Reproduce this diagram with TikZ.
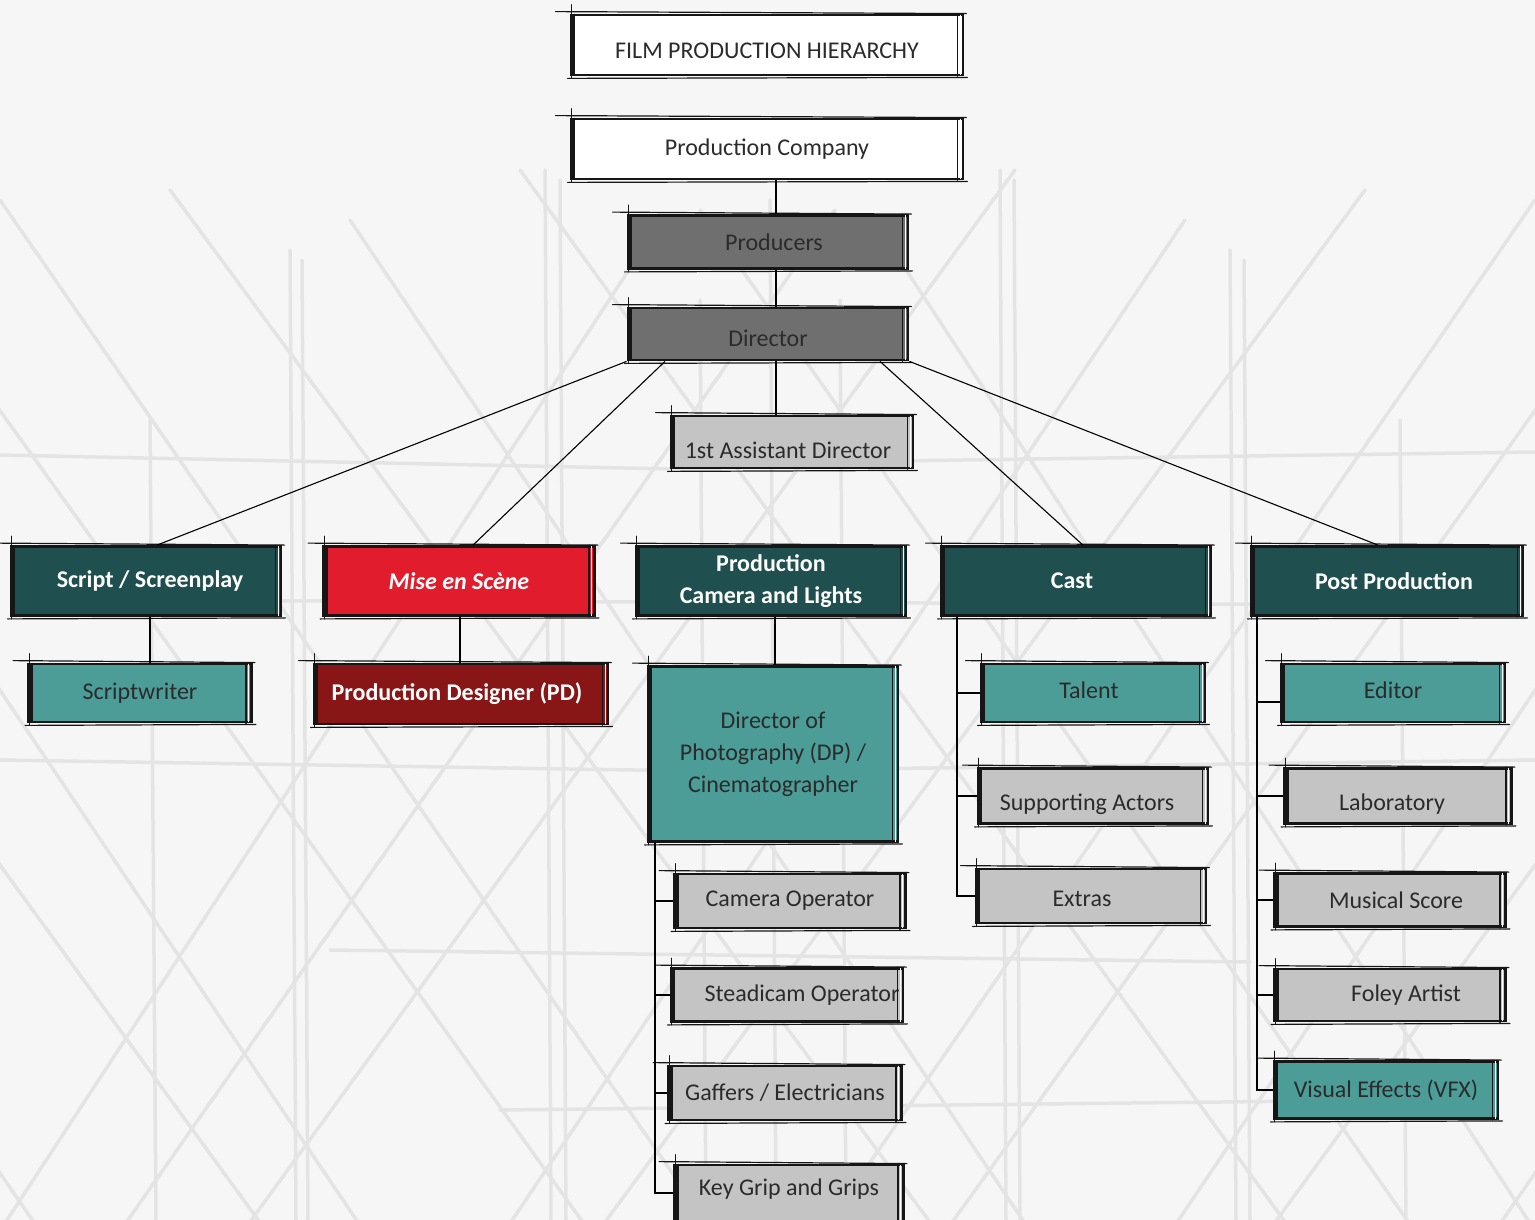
\documentclass[tikz,border=0pt]{standalone}
\usepackage{fontspec}
\setmainfont{Carlito}
\usetikzlibrary{calc}
\definecolor{bg}{HTML}{F6F6F6}
\definecolor{scaf}{HTML}{E4E4E4}
\definecolor{tealdark}{HTML}{1F4F4E}
\definecolor{tealmid}{HTML}{4C9C98}
\definecolor{redbright}{HTML}{E11D2D}
\definecolor{reddark}{HTML}{891616}
\definecolor{graydark}{HTML}{6F6F6F}
\definecolor{graylight}{HTML}{C4C4C4}
\definecolor{ink}{HTML}{2B2B2B}
\definecolor{edge}{HTML}{161616}
\newcommand\shiftx[2]{\hspace*{#1pt}#2\hspace*{-#1pt}}
\newcommand\shiftxl[2]{\hspace*{-#1pt}#2\hspace*{#1pt}}
\newcommand\down[2]{\raisebox{-#1pt}[\height][\depth]{#2}}
\newcommand\up[2]{\raisebox{#1pt}[\height][\depth]{#2}}
\tikzset{
  box/.style={draw=edge, line width=2.8pt, inner sep=0pt, align=center,
    font=\fontsize{24}{32}\selectfont, text=ink},
  whitebox/.style={box, fill=white},
  darkgray/.style={box, fill=graydark, text=ink},
  lightgray/.style={box, fill=graylight},
  headbox/.style={box, fill=tealdark, text=white, font=\fontsize{24}{32}\selectfont\bfseries},
  redhead/.style={box, fill=redbright, text=white, font=\fontsize{24}{32}\selectfont\bfseries\itshape},
  tealbox/.style={box, fill=tealmid},
  redbox/.style={box, fill=reddark, text=white, font=\fontsize{24}{32}\selectfont\bfseries},
  link/.style={draw=black, line width=1.1pt},
  sk/.style={draw=edge, line width=1.2pt, line cap=round},
  scafline/.style={draw=scaf, line width=3.5pt, line cap=round},
}
\begin{document}
\begin{tikzpicture}[x=1pt,y=-1pt]
\useasboundingbox (0,0) rectangle (1535,1220);
\fill[bg] (0,0) rectangle (1535,1220);
% background scaffolding
\begin{scope}
\clip (0,0) rectangle (1535,1220);
\foreach \x/\y/\dx in {-700/160/760,-520/150/800,-350/170/740,-180/160/790,0/200/760,170/190/810,350/220/740,520/170/800,700/210/770,880/230/720}
  \draw[scafline] (\x,\y) -- ++(\dx,1100);
\foreach \x/\y/\dx in {2235/160/-760,2055/150/-800,1885/170/-740,1715/160/-790,1535/200/-760,1365/190/-810,1185/220/-740,1015/170/-800,835/210/-770,655/230/-720}
  \draw[scafline] (\x,\y) -- ++(\dx,1100);
\foreach \x/\y in {150/420,290/250,302/260,545/170,560/180,700/300,770/200,840/300,1000/170,1014/180,1230/250,1244/260,1400/420}
  \draw[scafline] (\x,\y) -- (\x+6,1220);
\draw[scafline] (0,455) -- (720,470);
\draw[scafline] (820,462) -- (1535,452);
\draw[scafline] (60,600) -- (1500,605);
\draw[scafline] (0,760) -- (760,772);
\draw[scafline] (780,770) -- (1535,760);
\draw[scafline] (330,950) -- (1250,962);
\draw[scafline] (500,1110) -- (1400,1100);
\end{scope}
% nodes
\node[whitebox, minimum width=392, minimum height=60] (title) at (767,45) {\down{6}{FILM PRODUCTION HIERARCHY}};
\node[whitebox, minimum width=392, minimum height=60] (pc) at (767,149) {Production Company};
\node[darkgray, minimum width=280, minimum height=53] (prod) at (768,242) {\shiftx{6}{Producers}};
\node[darkgray, minimum width=280, minimum height=52] (dir) at (768,334) {\down{4}{Director}};
\node[lightgray, minimum width=242, minimum height=52] (ad) at (792,442) {\shiftxl{4}{\down{8}{1st Assistant Director}}};
\node[headbox, minimum width=270, minimum height=69] (script) at (146,581) {\shiftx{4}{Script / Screenplay}};
\node[redhead, minimum width=271, minimum height=69] (mise) at (459,581) {Mise en Scène};
\node[headbox, minimum width=270, minimum height=69] (camlights) at (771,581) {Production\\Camera and Lights};
\node[headbox, minimum width=270, minimum height=69] (cast) at (1076,581) {\shiftxl{4}{Cast}};
\node[headbox, minimum width=272, minimum height=69] (post) at (1387,581) {\shiftx{7}{Post Production}};
\node[tealbox, minimum width=223, minimum height=58] (scriptwriter) at (140,693) {Scriptwriter};
\node[redbox, minimum width=294, minimum height=60] (pd) at (461,694) {\shiftxl{4}{Production Designer (PD)}};
\node[tealbox, minimum width=250, minimum height=175] (dp) at (773,754) {Director of\\Photography (DP) /\\Cinematographer};
\node[tealbox, minimum width=224, minimum height=58] (talent) at (1093,693) {\shiftxl{4}{\up{3}{Talent}}};
\node[lightgray, minimum width=230, minimum height=55] (supp) at (1093,796) {\shiftxl{6}{\down{8}{Supporting Actors}}};
\node[lightgray, minimum width=230, minimum height=54] (extras) at (1091,896) {\shiftxl{9}{\down{3}{Extras}}};
\node[tealbox, minimum width=224, minimum height=58] (editor) at (1393,693) {\up{3}{Editor}};
\node[lightgray, minimum width=227, minimum height=55] (lab) at (1398,796) {\shiftxl{6}{\down{8}{Laboratory}}};
\node[lightgray, minimum width=231, minimum height=53] (music) at (1390,900) {\shiftx{6}{Musical Score}};
\node[lightgray, minimum width=231, minimum height=52] (foley) at (1390,995) {\shiftx{16}{Foley Artist}};
\node[tealbox, minimum width=224, minimum height=57] (vfx) at (1386,1090) {Visual Effects (VFX)};
\node[lightgray, minimum width=231, minimum height=54] (camop) at (790,901) {Camera Operator};
\node[lightgray, minimum width=232, minimum height=53] (steadi) at (787,995) {\shiftx{15}{Steadicam Operator}};
\node[lightgray, minimum width=233, minimum height=54] (gaffers) at (785,1093) {Gaffers / Electricians};
\node[lightgray, minimum width=229, minimum height=56] (keygrip) at (789,1193) {\up{4}{Key Grip and Grips}};
% sketchy strokes
\foreach \n in {title,pc,prod,dir,ad,script,mise,camlights,cast,post,scriptwriter,pd,dp,talent,supp,extras,editor,lab,music,foley,vfx,camop,steadi,gaffers,keygrip}{
  \draw[sk] ([shift={(-14,-2)}]\n.north west) -- ([shift={(2,0)}]\n.north east);
  \draw[sk] ([shift={(2,-9)}]\n.north west) -- ([shift={(2,2)}]\n.south west);
  \draw[draw=edge, line width=3.5pt] ([shift={(4,0)}]\n.north west) -- ([shift={(4,0)}]\n.south west);
  \draw[white, line width=0.9pt] ([shift={(-4,1)}]\n.north east) -- ([shift={(-4,-1)}]\n.south east);
  \draw[sk] ([shift={(-7,0)}]\n.north east) -- ([shift={(-7,0)}]\n.south east);
  \draw[sk] ([shift={(-2,2)}]\n.south west) -- ([shift={(3,1)}]\n.south east);
}
% connectors
\coordinate (spine) at (776,0);
\coordinate (dpbus) at (655,0);
\coordinate (castbus) at (957,0);
\coordinate (postbus) at (1257,0);
\draw[link] (pc.south -| spine) -- (prod.north -| spine);
\draw[link] (prod.south -| spine) -- (dir.north -| spine);
\draw[link] (dir.south -| spine) -- (ad.north -| spine);
\draw[link] (dir.south west) -- ([xshift=11pt]script.north);
\draw[link] ([xshift=-103pt]dir.south) -- ([xshift=14pt]mise.north);
\draw[link] ([xshift=112pt]dir.south) -- ([xshift=7pt]cast.north);
\draw[link] (dir.south east) -- ([xshift=-9pt]post.north);
\draw[link] ([xshift=4pt]script.south) -- ([xshift=10pt]scriptwriter.north);
\draw[link] ([xshift=1pt]mise.south) -- ([xshift=-1pt]pd.north);
\draw[link] ([xshift=4pt]camlights.south) -- ([xshift=2pt]dp.north);
\draw[link] (dp.south -| dpbus) |- (camop.west);
\draw[link] (dp.south -| dpbus) |- (steadi.west);
\draw[link] (dp.south -| dpbus) |- (gaffers.west);
\draw[link] (dp.south -| dpbus) |- (keygrip.west);
\draw[link] (cast.south -| castbus) |- (talent.west);
\draw[link] (cast.south -| castbus) |- (supp.west);
\draw[link] (cast.south -| castbus) |- (extras.west);
\draw[link] (post.south -| postbus) |- ([shift={(0,9)}]editor.west);
\draw[link] (post.south -| postbus) |- (lab.west);
\draw[link] (post.south -| postbus) |- (music.west);
\draw[link] (post.south -| postbus) |- (foley.west);
\draw[link] (post.south -| postbus) |- (vfx.west);
\end{tikzpicture}
\end{document}
